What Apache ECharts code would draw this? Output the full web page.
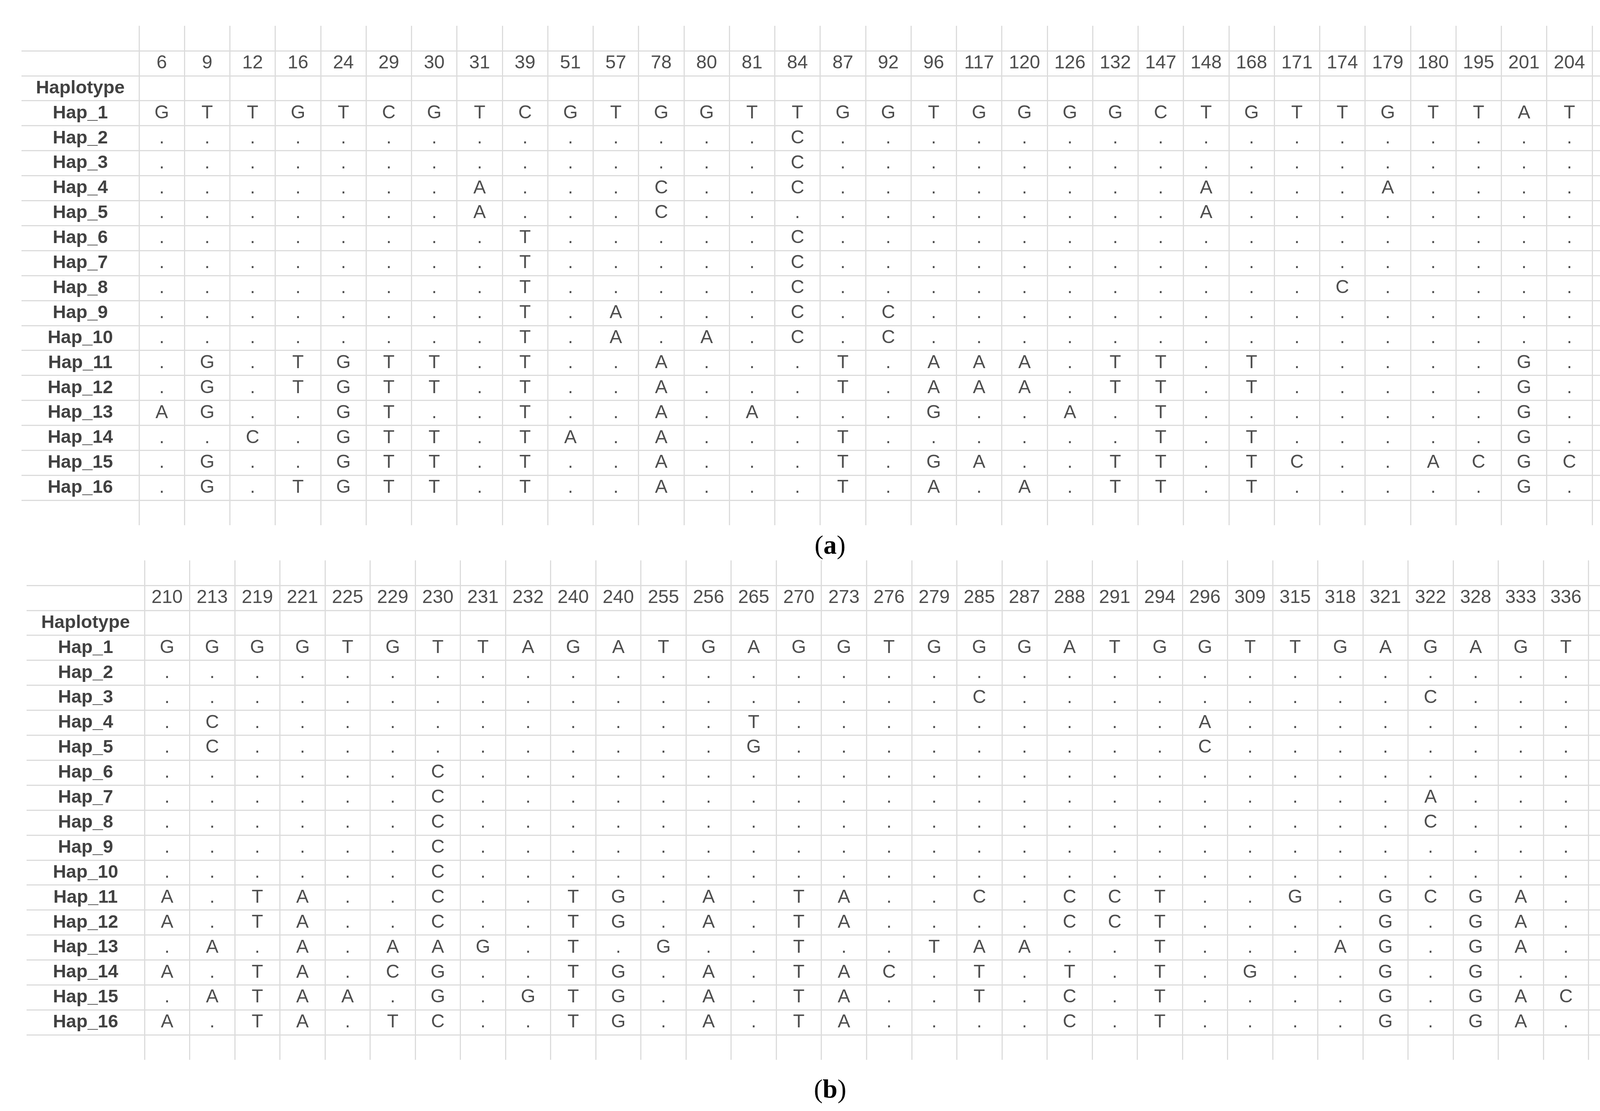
<!DOCTYPE html>
<html>
<head>
<meta charset="utf-8">
<script src="https://cdn.jsdelivr.net/npm/echarts@6/dist/echarts.min.js"></script>
<style>html,body{margin:0;padding:0;background:#fff}#chart{width:4244px;height:2843px}</style>
</head>
<body>
<div id="chart"></div>
<script>
// haplotype rows
var haps = ['Hap_1','Hap_2','Hap_3','Hap_4','Hap_5','Hap_6','Hap_7','Hap_8','Hap_9','Hap_10','Hap_11','Hap_12','Hap_13','Hap_14','Hap_15','Hap_16'];

// table (a)
var posA = ['6','9','12','16','24','29','30','31','39','51','57','78','80','81','84','87','92','96','117','120','126','132','147','148','168','171','174','179','180','195','201','204'];
var refA = 'GTTGTCGTCGTGGTTGGTGGGGCTGTTGTTAT';
var diffA = {
	Hap_2: {'84':'C'},
	Hap_3: {'84':'C'},
	Hap_4: {'31':'A','78':'C','84':'C','148':'A','179':'A'},
	Hap_5: {'31':'A','78':'C','148':'A'},
	Hap_6: {'39':'T','84':'C'},
	Hap_7: {'39':'T','84':'C'},
	Hap_8: {'39':'T','84':'C','174':'C'},
	Hap_9: {'39':'T','57':'A','84':'C','92':'C'},
	Hap_10: {'39':'T','57':'A','80':'A','84':'C','92':'C'},
	Hap_11: {'9':'G','16':'T','24':'G','29':'T','30':'T','39':'T','78':'A','87':'T','96':'A','117':'A','120':'A','132':'T','147':'T','168':'T','201':'G'},
	Hap_12: {'9':'G','16':'T','24':'G','29':'T','30':'T','39':'T','78':'A','87':'T','96':'A','117':'A','120':'A','132':'T','147':'T','168':'T','201':'G'},
	Hap_13: {'6':'A','9':'G','24':'G','29':'T','39':'T','78':'A','81':'A','96':'G','126':'A','147':'T','201':'G'},
	Hap_14: {'12':'C','24':'G','29':'T','30':'T','39':'T','51':'A','78':'A','87':'T','147':'T','168':'T','201':'G'},
	Hap_15: {'9':'G','24':'G','29':'T','30':'T','39':'T','78':'A','87':'T','96':'G','117':'A','132':'T','147':'T','168':'T','171':'C','180':'A','195':'C','201':'G','204':'C'},
	Hap_16: {'9':'G','16':'T','24':'G','29':'T','30':'T','39':'T','78':'A','87':'T','96':'A','120':'A','132':'T','147':'T','168':'T','201':'G'}
};

// table (b) - position 240 appears twice, second one keyed as 240b
var posB = ['210','213','219','221','225','229','230','231','232','240','240b','255','256','265','270','273','276','279','285','287','288','291','294','296','309','315','318','321','322','328','333','336'];
var refB = 'GGGGTGTTAGATGAGGTGGGATGGTTGAGAGT';
var diffB = {
	Hap_3: {'285':'C','322':'C'},
	Hap_4: {'213':'C','265':'T','296':'A'},
	Hap_5: {'213':'C','265':'G','296':'C'},
	Hap_6: {'230':'C'},
	Hap_7: {'230':'C','322':'A'},
	Hap_8: {'230':'C','322':'C'},
	Hap_9: {'230':'C'},
	Hap_10: {'230':'C'},
	Hap_11: {'210':'A','219':'T','221':'A','230':'C','240':'T','240b':'G','256':'A','270':'T','273':'A','285':'C','288':'C','291':'C','294':'T','315':'G','321':'G','322':'C','328':'G','333':'A'},
	Hap_12: {'210':'A','219':'T','221':'A','230':'C','240':'T','240b':'G','256':'A','270':'T','273':'A','288':'C','291':'C','294':'T','321':'G','328':'G','333':'A'},
	Hap_13: {'213':'A','221':'A','229':'A','230':'A','231':'G','240':'T','255':'G','270':'T','279':'T','285':'A','287':'A','294':'T','318':'A','321':'G','328':'G','333':'A'},
	Hap_14: {'210':'A','219':'T','221':'A','229':'C','230':'G','240':'T','240b':'G','256':'A','270':'T','273':'A','276':'C','285':'T','288':'T','294':'T','309':'G','321':'G','328':'G'},
	Hap_15: {'213':'A','219':'T','221':'A','225':'A','230':'G','232':'G','240':'T','240b':'G','256':'A','270':'T','273':'A','285':'T','288':'C','294':'T','321':'G','328':'G','333':'A','336':'C'},
	Hap_16: {'210':'A','219':'T','221':'A','229':'T','230':'C','240':'T','240b':'G','256':'A','270':'T','273':'A','288':'C','294':'T','321':'G','328':'G','333':'A'}
};

var rows = ['top','num','Haplotype'].concat(haps).concat(['bot']);
var cellFont = 'Arial, "Liberation Sans", sans-serif';
var gridColor = '#dcdcdc';

function cells(pos, ref, diff) {
	var out = [];
	pos.forEach(function(p, i) {
		out.push([p, 'num', p.replace('b', '')]);
		haps.forEach(function(h, k) {
			var d = diff[h] || {};
			var t = k === 0 ? ref[i] : (d[p] || '.');
			out.push([p, h, t]);
		});
	});
	return out;
}
function labels() {
	var out = [];
	rows.forEach(function(r) {
		if (r !== 'top' && r !== 'num' && r !== 'bot') out.push(['x', r, r]);
	});
	return out;
}
function lineColors(n, skipFirst, skipLast) {
	var c = [];
	for (var i = 0; i < n; i++) c.push(gridColor);
	if (skipFirst) c[0] = 'rgba(0,0,0,0)';
	if (skipLast) c[n - 1] = 'rgba(0,0,0,0)';
	return c;
}

var chartDom = document.getElementById('chart');
var myChart = echarts.init(chartDom);
var tables = [
	{pos: posA, ref: refA, diff: diffA, top: 66, height: 1278, left: 55, split: 356, right: 4192},
	{pos: posB, ref: refB, diff: diffB, top: 1434, height: 1278, left: 68, split: 370, right: 4182}
];
var grid = [], xAxis = [], yAxis = [], series = [];
tables.forEach(function(t, k) {
	grid.push({left: t.left, top: t.top, width: t.split - t.left, height: t.height});
	grid.push({left: t.split, top: t.top, width: t.right - t.split, height: t.height});
	xAxis.push({type: 'category', gridIndex: 2 * k, data: ['x'], axisLine: {show: false}, axisTick: {show: false}, axisLabel: {show: false}, splitLine: {show: false}});
	xAxis.push({type: 'category', gridIndex: 2 * k + 1, data: t.pos.concat(['end']), axisLine: {show: false}, axisTick: {show: false}, axisLabel: {show: false},
		splitLine: {show: true, interval: 0, lineStyle: {color: lineColors(t.pos.length + 2, false, true), width: 3}}});
	[0, 1].forEach(function(j) {
		yAxis.push({type: 'category', gridIndex: 2 * k + j, data: rows, inverse: true, axisLine: {show: false}, axisTick: {show: false}, axisLabel: {show: false},
			splitLine: {show: true, interval: 0, lineStyle: {color: lineColors(rows.length + 1, true, true), width: 3}}});
	});
	series.push({type: 'scatter', xAxisIndex: 2 * k, yAxisIndex: 2 * k, data: labels(), symbolSize: 0, silent: true,
		label: {show: true, position: 'inside', formatter: function(p) { return p.value[2]; }, fontFamily: cellFont, fontWeight: 'bold', fontSize: 47, color: '#111'}});
	series.push({type: 'scatter', xAxisIndex: 2 * k + 1, yAxisIndex: 2 * k + 1, data: cells(t.pos, t.ref, t.diff), symbolSize: 0, silent: true,
		label: {show: true, position: 'inside', formatter: function(p) { return p.value[2]; }, fontFamily: cellFont, fontSize: 48, color: '#222'}});
});

var option = {
	backgroundColor: '#fff',
	animation: false,
	title: [
		{text: '({b|a})', left: 2120, top: 1360, textAlign: 'center', textStyle: {fontFamily: '"Liberation Serif", serif', fontSize: 68, fontWeight: 'normal', color: '#000', rich: {b: {fontFamily: '"Liberation Serif", serif', fontSize: 68, fontWeight: 'bold', color: '#000'}}}},
		{text: '({b|b})', left: 2120, top: 2752, textAlign: 'center', textStyle: {fontFamily: '"Liberation Serif", serif', fontSize: 68, fontWeight: 'normal', color: '#000', rich: {b: {fontFamily: '"Liberation Serif", serif', fontSize: 68, fontWeight: 'bold', color: '#000'}}}}
	],
	grid: grid,
	xAxis: xAxis,
	yAxis: yAxis,
	series: series
};
option && myChart.setOption(option);
</script>
</body>
</html>
